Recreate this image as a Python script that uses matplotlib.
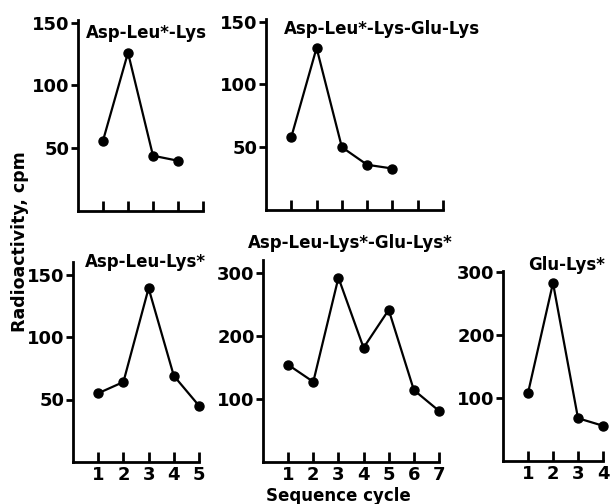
import matplotlib
matplotlib.use("Agg")
import matplotlib.pyplot as plt

# valores (cpm por ciclo de sequenciamento)
t1 = "Asp-Leu*-Lys"
c1 = [1, 2, 3, 4]
v1 = [56, 126, 44, 40]

t2 = "Asp-Leu*-Lys-Glu-Lys"
c2 = [1, 2, 3, 4, 5]
v2 = [58, 129, 50, 36, 33]

t3 = "Asp-Leu-Lys*"
c3 = [1, 2, 3, 4, 5]
v3 = [55, 64, 139, 69, 45]

t4 = "Asp-Leu-Lys*-Glu-Lys*"
c4 = [1, 2, 3, 4, 5, 6, 7]
v4 = [154, 127, 292, 181, 241, 114, 81]

t5 = "Glu-Lys*"
c5 = [1, 2, 3, 4]
v5 = [108, 283, 68, 56]

W, H = 613, 504
fig = plt.figure(figsize=(W / 100, H / 100), dpi=100)


def painel(px, py, pw, ph, x, y, xmax, ymax, yticks, titulo, tpos, rotulos=True):
    # px, py em pixels (canto superior esquerdo da área)
    ax = fig.add_axes([px / W, 1 - (py + ph) / H, pw / W, ph / H])
    ax.plot(x, y, color="black", lw=1.6, marker="o", ms=6.5, clip_on=False)
    ax.set_xlim(0, xmax)
    ax.set_ylim(0, ymax)
    ax.set_xticks(range(1, xmax + 1))
    ax.set_yticks(yticks)
    for s in ["top", "right"]:
        ax.spines[s].set_visible(False)
    for s in ["left", "bottom"]:
        ax.spines[s].set_linewidth(2)
    ax.tick_params(axis="x", direction="in", length=7, width=2, pad=3)
    ax.tick_params(axis="y", direction="out", length=5, width=2, pad=1)
    for lab in ax.get_yticklabels() + ax.get_xticklabels():
        lab.set_fontsize(13)
        lab.set_fontweight("bold")
    if not rotulos:
        ax.set_xticklabels([])
    fig.text(tpos[0] / W, 1 - tpos[1] / H, titulo, fontsize=12, fontweight="bold",
             ha="left", va="center")
    return ax


painel(78, 20, 125, 191, c1, v1, 5, 152, [50, 100, 150], t1, (86, 33), rotulos=False)
painel(266, 19, 177, 191, c2, v2, 7, 152, [50, 100, 150], t2, (284, 29), rotulos=False)
painel(73, 262, 126, 200, c3, v3, 5, 160, [50, 100, 150], t3, (85, 262))
painel(263, 260, 176, 202, c4, v4, 7, 320, [100, 200, 300], t4, (248, 243))
painel(503, 271, 100, 190, c5, v5, 4, 302, [100, 200, 300], t5, (528, 265))

fig.text(20 / W, 1 - 242 / H, "Radioactivity, cpm", rotation=90, fontsize=12.5,
         fontweight="bold", ha="center", va="center")
fig.text(338 / W, 1 - 496 / H, "Sequence cycle", fontsize=12, fontweight="bold",
         ha="center", va="center")

fig.savefig("out.png", dpi=100)
